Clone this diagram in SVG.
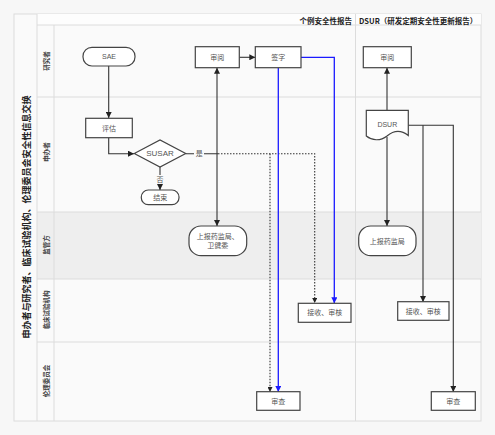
<svg xmlns="http://www.w3.org/2000/svg" width="495" height="435" viewBox="0 0 495 435">
<defs>
<style>
.t{font-family:"Liberation Sans","Noto Sans CJK SC",sans-serif;font-size:7px;fill:#555;text-anchor:middle;dominant-baseline:central}
.h{font-family:"Noto Sans CJK SC",sans-serif;font-size:7.5px;font-weight:bold;fill:#222;dominant-baseline:central}
.lane{font-family:"Noto Sans CJK SC",sans-serif;font-size:6.5px;font-weight:bold;fill:#444;text-anchor:middle;dominant-baseline:central}
.box{fill:#fff;stroke:#444;stroke-width:1.2}
.c{fill:none;stroke:#333;stroke-width:1.1}
.b{fill:none;stroke:#1a1aff;stroke-width:1.3}
.d{fill:none;stroke:#333;stroke-width:1.1;stroke-dasharray:1.5 1.5}
.g{stroke:#dcdcdc;stroke-width:1;fill:none}
</style>
<marker id="a" viewBox="0 0 10 10" refX="10" refY="5" markerWidth="6" markerHeight="6" orient="auto" markerUnits="userSpaceOnUse"><path d="M0,0 L10,5 L0,10 z" fill="#222"/></marker>
<marker id="ab" viewBox="0 0 10 10" refX="10" refY="5" markerWidth="6" markerHeight="6" orient="auto" markerUnits="userSpaceOnUse"><path d="M0,0 L10,5 L0,10 z" fill="#1a1aff"/></marker>
<marker id="ad" viewBox="0 0 10 10" refX="10" refY="5" markerWidth="5" markerHeight="5" orient="auto" markerUnits="userSpaceOnUse"><path d="M0,0 L10,5 L0,10 z" fill="#222"/></marker>
</defs>
<rect width="495" height="435" fill="#f7f7f7"/>
<g id="pool">
<rect x="14" y="14" width="467" height="407" fill="#fafafa" stroke="#dcdcdc"/>
<rect x="37" y="212" width="444" height="67" fill="#eeeeee"/>
<rect x="37" y="14" width="444" height="11" fill="#fdfdfd"/>
<line class="g" x1="37" y1="14" x2="37" y2="421"/>
<line class="g" x1="54" y1="25" x2="54" y2="421"/>
<line class="g" x1="37" y1="25" x2="481" y2="25"/>
<line class="g" x1="37" y1="97" x2="481" y2="97"/>
<line class="g" x1="37" y1="212" x2="481" y2="212"/>
<line class="g" x1="37" y1="279" x2="481" y2="279"/>
<line class="g" x1="37" y1="342" x2="481" y2="342"/>
<line class="g" x1="355.5" y1="14" x2="355.5" y2="421"/>
<text class="h" x="352" y="20" text-anchor="end">个例安全性报告</text>
<text class="h" x="359" y="20">DSUR（研发定期安全性更新报告）</text>
<text class="h" transform="translate(26,217) rotate(-90)" text-anchor="middle" style="font-size:9px">申办者与研究者、临床试验机构、伦理委员会安全性信息交换</text>
<text class="lane" transform="translate(46,61) rotate(-90)">研究者</text>
<text class="lane" transform="translate(46,152) rotate(-90)">申办者</text>
<text class="lane" transform="translate(46,245) rotate(-90)">监管方</text>
<text class="lane" transform="translate(46,310) rotate(-90)">临床试验机构</text>
<text class="lane" transform="translate(46,381) rotate(-90)">伦理委员会</text>
</g>
<g id="connectors">
<path class="c" d="M108.7,66 V118" marker-end="url(#a)"/>
<path class="c" d="M108.7,137.7 V153.7 H134" marker-end="url(#a)"/>
<path class="c" d="M160,167 V190" marker-end="url(#a)"/>
<path class="c" d="M185.7,153.7 H218"/>
<path class="d" d="M218,153.7 H314.7 V303" marker-end="url(#ad)"/>
<path class="d" d="M270,153.7 V392" marker-end="url(#ad)"/>
<path class="c" d="M217,78 V226" marker-end="url(#a)"/>
<path class="c" d="M217,78 V67.7" marker-end="url(#a)"/>
<path class="c" d="M239.3,57.3 H255.3" marker-end="url(#a)"/>
<path class="b" d="M278.3,67.7 V392" marker-end="url(#ab)"/>
<path class="b" d="M301,57.3 H334.3 V303.3" marker-end="url(#ab)"/>
<path class="c" d="M387,110.3 V67.7" marker-end="url(#a)"/>
<path class="c" d="M387,137 V226" marker-end="url(#a)"/>
<path class="c" d="M408.3,125.3 H453.3 V392" marker-end="url(#a)"/>
<path class="c" d="M423,125.3 V302" marker-end="url(#a)"/>
<rect x="194" y="149" width="10" height="9" fill="#fafafa"/>
<text class="t" x="199.3" y="153.7">是</text>
<rect x="155" y="175" width="10" height="9" fill="#fafafa"/>
<text class="t" x="160" y="179.5">否</text>
</g>
<g id="n-sae"><rect class="box" x="83" y="47.3" width="52" height="18.7" rx="9"/><text class="t" x="109" y="56.7">SAE</text></g>
<g id="n-review1"><rect class="box" x="195.3" y="46.7" width="44" height="21"/><text class="t" x="217.3" y="57.2">审阅</text></g>
<g id="n-sign"><rect class="box" x="255.3" y="46.7" width="45.7" height="21"/><text class="t" x="278.2" y="57.2">签字</text></g>
<g id="n-review2"><rect class="box" x="363.3" y="46.7" width="48" height="21"/><text class="t" x="387.3" y="57.2">审阅</text></g>
<g id="n-eval"><rect class="box" x="85.7" y="118.3" width="46.6" height="19.4"/><text class="t" x="109" y="128">评估</text></g>
<g id="n-susar"><path class="box" d="M134.3,153.5 L160,140 L185.7,153.5 L160,167 Z"/><text class="t" x="160" y="153.7" style="font-size:8px">SUSAR</text></g>
<g id="n-end"><rect class="box" x="141.3" y="190" width="37.7" height="14.7" rx="7"/><text class="t" x="160.2" y="197.4">结束</text></g>
<g id="n-dsur"><path class="box" d="M366.3,110.3 H408.3 V135.5 C400,129 393,131 387,136 C380,141.5 372,140.5 366.3,136 Z"/><text class="t" x="387.3" y="124">DSUR</text></g>
<g id="n-report1"><rect class="box" x="189" y="226" width="57.7" height="29.7" rx="12"/><text class="t" x="217.8" y="236.5">上报药监局、</text><text class="t" x="217.8" y="245.5">卫健委</text></g>
<g id="n-report2"><rect class="box" x="358.7" y="226" width="57.3" height="29.7" rx="12"/><text class="t" x="387.3" y="241">上报药监局</text></g>
<g id="n-recv1"><rect class="box" x="298.3" y="303.3" width="52.7" height="19"/><text class="t" x="324.7" y="312.8">接收、审核</text></g>
<g id="n-recv2"><rect class="box" x="397.7" y="301.7" width="51.3" height="18.6"/><text class="t" x="423.3" y="311">接收、审核</text></g>
<g id="n-ec1"><rect class="box" x="256.7" y="391.7" width="43.3" height="18.6"/><text class="t" x="278.3" y="401">审查</text></g>
<g id="n-ec2"><rect class="box" x="431.3" y="391.7" width="44" height="18.6"/><text class="t" x="453.3" y="401">审查</text></g>
</svg>
